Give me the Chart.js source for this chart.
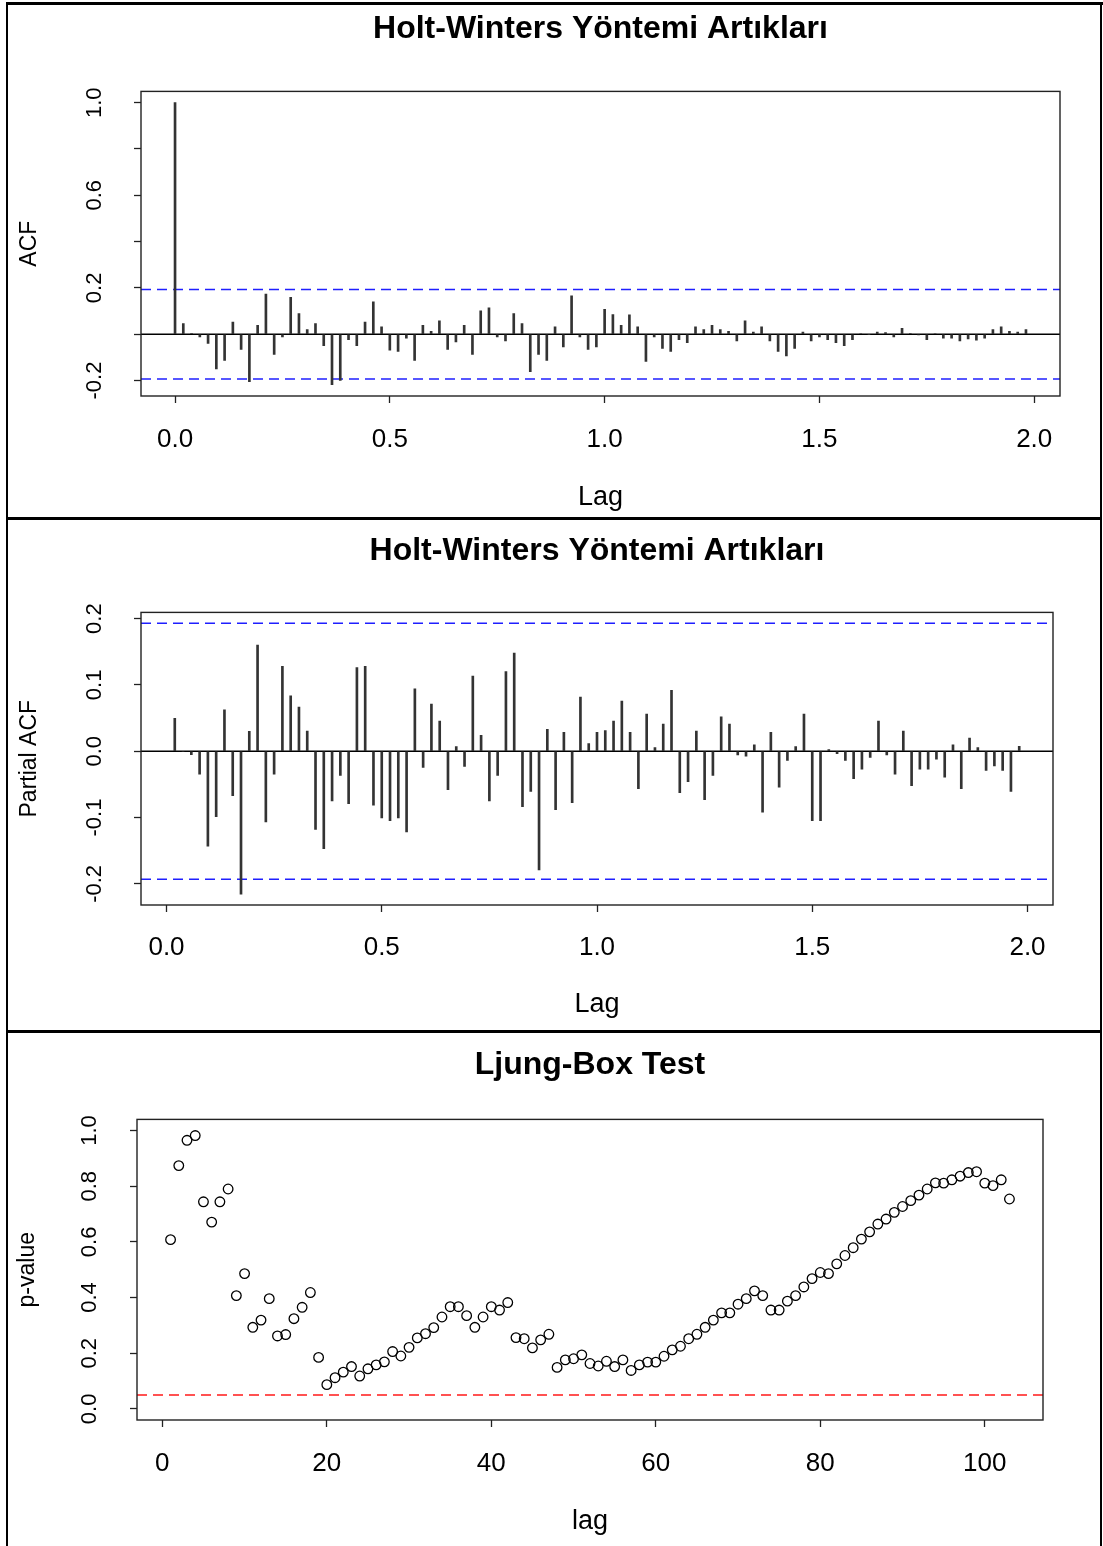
<!DOCTYPE html>
<html>
<head>
<meta charset="utf-8">
<script src="https://cdn.jsdelivr.net/npm/chart.js@4.4.1/dist/chart.umd.min.js"></script>
<style>
  body { margin: 0; background: #fff; }
  #page { position: relative; width: 1103px; height: 1546px; overflow: hidden; background: #fff; }
  canvas { position: absolute; left: 0; }
  .rule { position: absolute; background: #000; z-index: 2; }
</style>
</head>
<body>
<div id="page">
  <canvas id="acfChart"></canvas>
  <canvas id="pacfChart"></canvas>
  <canvas id="lbChart"></canvas>
  <div class="rule" style="left:6px;top:2px;width:1097px;height:3px"></div>
  <div class="rule" style="left:6px;top:2px;width:2px;height:1544px"></div>
  <div class="rule" style="left:1100px;top:2px;width:2px;height:1544px"></div>
  <div class="rule" style="left:6px;top:517px;width:1096px;height:3px"></div>
  <div class="rule" style="left:6px;top:1030px;width:1096px;height:3px"></div>
</div>
<script>
const FONT = '"Liberation Sans", Arial, sans-serif';

// weekly series -> lags in years
const lagFrequency = 52;

// ACF, lag 0..103
const acfValues = [
  1.0, 0.046, 0.003, -0.012, -0.04, -0.15, -0.113, 0.052, -0.066, -0.205,
  0.039, 0.173, -0.087, -0.012, 0.159, 0.089, 0.02, 0.046, -0.049, -0.218,
  -0.199, -0.023, -0.049, 0.052, 0.14, 0.032, -0.069, -0.074, -0.017, -0.113,
  0.039, 0.013, 0.058, -0.066, -0.033, 0.039, -0.087, 0.101, 0.114, -0.012,
  -0.029, 0.089, 0.046, -0.162, -0.087, -0.113, 0.032, -0.055, 0.166, -0.012,
  -0.066, -0.055, 0.108, 0.085, 0.039, 0.084, 0.032, -0.117, -0.012, -0.061,
  -0.074, -0.023, -0.036, 0.032, 0.02, 0.039, 0.02, 0.013, -0.029, 0.058,
  0.009, 0.032, -0.029, -0.074, -0.094, -0.061, 0.009, -0.029, -0.012, -0.023,
  -0.036, -0.049, -0.023, 0.002, -0.002, 0.009, 0.007, -0.012, 0.026, 0.003,
  -0.003, -0.023, 0.002, -0.017, -0.017, -0.029, -0.02, -0.026, -0.017, 0.02,
  0.032, 0.013, 0.009, 0.02
];

// PACF, lag 1..103
const pacfValues = [
  0.0495, 0.0, -0.005, -0.0345, -0.143, -0.0985, 0.0625, -0.067, -0.2155, 0.03,
  0.16, -0.1065, -0.0345, 0.128, 0.0835, 0.0665, 0.0305, -0.118, -0.147, -0.075,
  -0.0365, -0.079, 0.126, 0.128, -0.0815, -0.1005, -0.1045, -0.1005, -0.1215, 0.094,
  -0.0245, 0.071, 0.0455, -0.058, 0.007, -0.023, 0.1135, 0.024, -0.075, -0.0365,
  0.12, 0.148, -0.0835, -0.0605, -0.179, 0.033, -0.088, 0.0285, -0.0775, 0.0815,
  0.0115, 0.0285, 0.031, 0.0455, 0.0755, 0.0285, -0.0565, 0.056, 0.0055, 0.041,
  0.092, -0.0625, -0.046, 0.0305, -0.073, -0.0365, 0.052, 0.041, -0.0055, -0.0075,
  0.0095, -0.092, 0.0285, -0.054, -0.014, 0.007, 0.056, -0.1045, -0.1045, 0.0025,
  -0.0035, -0.014, -0.0415, -0.027, -0.0095, 0.0455, -0.0055, -0.0345, 0.0305, -0.052,
  -0.027, -0.027, -0.012, -0.039, 0.0095, -0.0565, 0.02, 0.0055, -0.029, -0.022,
  -0.029, -0.0605, 0.0075
];

// Ljung-Box p-values, lag 1..103
const ljungPValues = [
  0.608, 0.874, 0.965, 0.982, 0.744, 0.671, 0.744, 0.790, 0.407, 0.486,
  0.293, 0.319, 0.396, 0.262, 0.267, 0.324, 0.365, 0.418, 0.185, 0.087,
  0.112, 0.132, 0.152, 0.118, 0.144, 0.158, 0.169, 0.206, 0.190, 0.221,
  0.255, 0.270, 0.292, 0.330, 0.367, 0.367, 0.335, 0.293, 0.330, 0.367,
  0.355, 0.382, 0.256, 0.252, 0.219, 0.248, 0.268, 0.149, 0.176, 0.180,
  0.194, 0.163, 0.154, 0.171, 0.152, 0.176, 0.138, 0.158, 0.168, 0.168,
  0.189, 0.212, 0.225, 0.252, 0.268, 0.293, 0.319, 0.345, 0.345, 0.376,
  0.396, 0.424, 0.407, 0.355, 0.355, 0.387, 0.407, 0.438, 0.468, 0.490,
  0.486, 0.521, 0.551, 0.579, 0.610, 0.636, 0.664, 0.682, 0.706, 0.727,
  0.748, 0.768, 0.790, 0.812, 0.811, 0.823, 0.836, 0.849, 0.852, 0.811,
  0.802, 0.823, 0.754
];

const ciLimit = 0.193;      // blue dashed bounds
const pValueLevel = 0.05;   // red dashed line

const acfYTickLabels = ['-0.2', '0.2', '0.6', '1.0'];
const pacfYTickLabels = ['-0.2', '-0.1', '0.0', '0.1', '0.2'];
const lagTickLabels = ['0.0', '0.5', '1.0', '1.5', '2.0'];
const pYTickLabels = ['0.0', '0.2', '0.4', '0.6', '0.8', '1.0'];
const lbLagTickLabels = ['0', '20', '40', '60', '80', '100'];

// R pads the data range by 4% on each side
function rRange(lo, hi) {
  const d = (hi - lo) * 0.04;
  return [lo - d, hi + d];
}
function fmt(v, digits) {
  if (Math.abs(v) < 1e-9) v = 0;
  return v.toFixed(digits);
}

// box around plot region + horizontal reference lines
const rFrame = {
  id: 'rFrame',
  beforeDatasetsDraw(chart, args, opts) {
    const { ctx, chartArea: a, scales: { y } } = chart;
    ctx.save();
    ctx.beginPath(); ctx.rect(a.left, a.top, a.width, a.height); ctx.clip();
    for (const l of opts.lines || []) {
      const py = y.getPixelForValue(l.value);
      ctx.strokeStyle = l.color; ctx.lineWidth = l.width; ctx.setLineDash(l.dash || []);
      ctx.beginPath(); ctx.moveTo(a.left, py); ctx.lineTo(a.right, py); ctx.stroke();
    }
    ctx.restore();
  },
  afterDraw(chart) {
    const { ctx, chartArea: a } = chart;
    ctx.save();
    ctx.strokeStyle = '#222'; ctx.lineWidth = 1.4;
    ctx.strokeRect(a.left, a.top, a.width, a.height);
    ctx.restore();
  }
};

function rChart(id, c) {
  const el = document.getElementById(id);
  el.width = 1103; el.height = c.height; el.style.top = c.top + 'px';
  return new Chart(el, {
    type: c.type,
    data: { datasets: [c.dataset] },
    options: {
      responsive: false, animation: false, events: [],
      layout: { padding: { left: 0, right: c.padRight, top: 0, bottom: 0 } },
      plugins: {
        legend: { display: false }, tooltip: { enabled: false },
        title: { display: true, fullSize: false, text: c.title, color: '#000',
                 font: { family: FONT, size: 32, weight: 'bold' }, padding: c.titlePad },
        rFrame: { lines: c.lines }
      },
      scales: {
        x: {
          type: 'linear', min: c.xRange[0], max: c.xRange[1], offset: false,
          afterFit: s => { s.height = c.xHeight; },
          grid: { drawOnChartArea: false, offset: false, tickLength: 7, tickColor: '#222', tickWidth: 1.3 },
          border: { display: false },
          ticks: { stepSize: c.xStep, includeBounds: false, autoSkip: false, maxRotation: 0,
                   color: '#000', padding: c.xTickPad, font: { family: FONT, size: 26 },
                   callback: v => { const s = fmt(v, c.xDigits); return c.xLabels.includes(s) ? s : ''; } },
          title: { display: true, text: c.xTitle, color: '#000', font: { family: FONT, size: 27 },
                   padding: { top: 0, bottom: c.xTitlePad } }
        },
        y: {
          min: c.yRange[0], max: c.yRange[1],
          afterFit: s => { s.width = c.chartLeft; },
          grid: { drawOnChartArea: false, tickLength: 7, tickColor: '#222', tickWidth: 1.3 },
          border: { display: false },
          ticks: { stepSize: c.yStep, includeBounds: false, autoSkip: false, minRotation: 90, maxRotation: 90,
                   crossAlign: 'center', color: '#000', padding: c.yTickPad, font: { family: FONT, size: 22 },
                   callback: v => { const s = fmt(v, 1); return c.yLabels.includes(s) ? s : ''; } },
          title: { display: true, text: c.yTitle, color: '#000', font: { family: FONT, size: 23 },
                   padding: { top: c.yTitlePad, bottom: 0 } }
        }
      }
    },
    plugins: [rFrame]
  });
}

const spikeStyle = { backgroundColor: '#333', borderWidth: 0, barThickness: 2 };
const ciStyle = { color: '#1f1fff', width: 1.6, dash: [10, 6] };

rChart('acfChart', {
  type: 'bar', top: 5, height: 512, padRight: 43, chartLeft: 141,
  title: 'Holt-Winters Yöntemi Artıkları', titlePad: { top: 5, bottom: 43 },
  dataset: Object.assign({ data: acfValues.map((v, k) => ({ x: k / lagFrequency, y: v })) }, spikeStyle),
  lines: [
    { value: 0, color: '#000', width: 1.4 },
    Object.assign({ value: ciLimit }, ciStyle),
    Object.assign({ value: -ciLimit }, ciStyle)
  ],
  xRange: rRange(0, (acfValues.length - 1) / lagFrequency), xStep: 0.5, xDigits: 1, xLabels: lagTickLabels,
  xHeight: 121, xTickPad: 21, xTitle: 'Lag', xTitlePad: 3,
  yRange: rRange(Math.min(-ciLimit, ...acfValues), Math.max(ciLimit, ...acfValues)), yStep: 0.2,
  yLabels: acfYTickLabels, yTickPad: 20, yTitle: 'ACF', yTitlePad: 16
});

rChart('pacfChart', {
  type: 'bar', top: 520, height: 510, padRight: 50, chartLeft: 141,
  title: 'Holt-Winters Yöntemi Artıkları', titlePad: { top: 12, bottom: 42 },
  dataset: Object.assign({ data: pacfValues.map((v, k) => ({ x: (k + 1) / lagFrequency, y: v })) }, spikeStyle),
  lines: [
    { value: 0, color: '#000', width: 1.4 },
    Object.assign({ value: ciLimit }, ciStyle),
    Object.assign({ value: -ciLimit }, ciStyle)
  ],
  xRange: rRange(1 / lagFrequency, pacfValues.length / lagFrequency), xStep: 0.5, xDigits: 1, xLabels: lagTickLabels,
  xHeight: 125, xTickPad: 20, xTitle: 'Lag', xTitlePad: 9,
  yRange: rRange(Math.min(-ciLimit, ...pacfValues), Math.max(ciLimit, ...pacfValues)), yStep: 0.1,
  yLabels: pacfYTickLabels, yTickPad: 20, yTitle: 'Partial ACF', yTitlePad: 16
});

rChart('lbChart', {
  type: 'scatter', top: 1033, height: 513, padRight: 60, chartLeft: 137,
  title: 'Ljung-Box Test', titlePad: { top: 13, bottom: 35 },
  dataset: {
    data: ljungPValues.map((p, i) => ({ x: i + 1, y: p })),
    pointStyle: 'circle', pointRadius: 4.8, pointBorderWidth: 1.3,
    borderColor: '#000', backgroundColor: 'rgba(0,0,0,0)', showLine: false
  },
  lines: [{ value: pValueLevel, color: '#ff1a1a', width: 1.6, dash: [10, 6] }],
  xRange: rRange(1, ljungPValues.length), xStep: 20, xDigits: 0, xLabels: lbLagTickLabels,
  xHeight: 126, xTickPad: 21, xTitle: 'lag', xTitlePad: 8,
  yRange: rRange(0, 1), yStep: 0.2,
  yLabels: pYTickLabels, yTickPad: 25, yTitle: 'p-value', yTitlePad: 14
});
</script>
</body>
</html>
